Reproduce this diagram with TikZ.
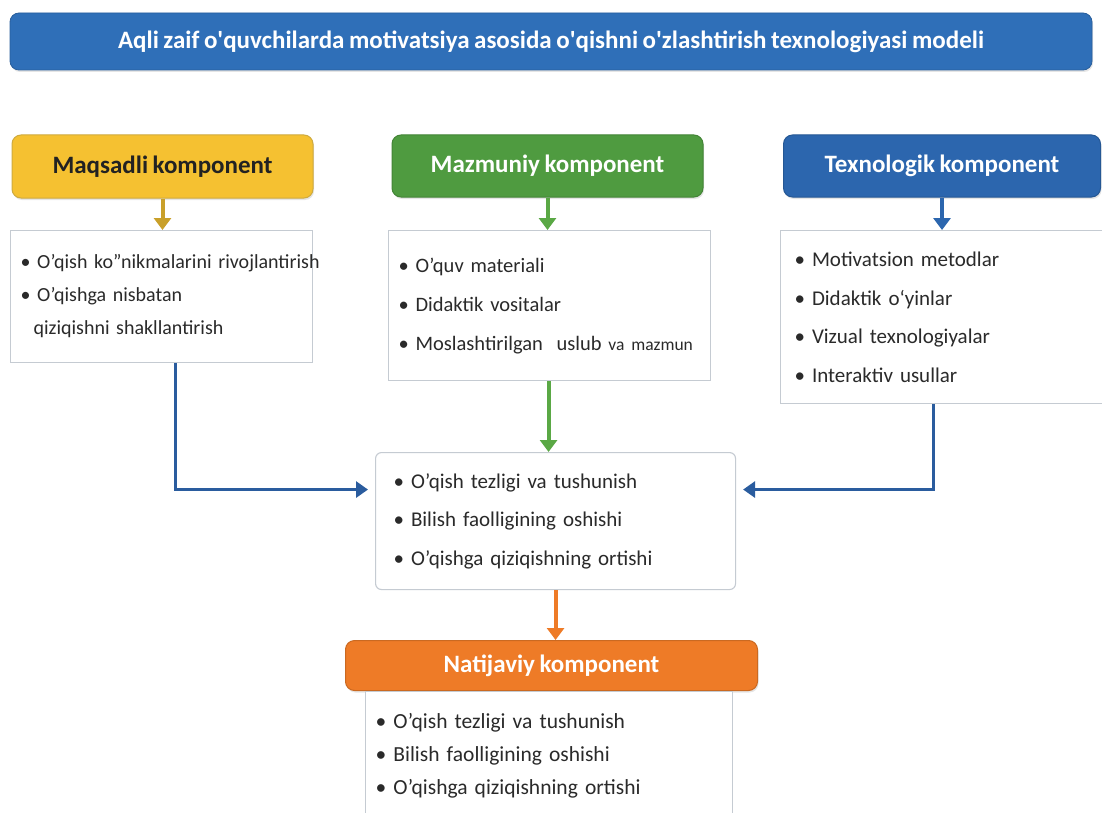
\documentclass[tikz,border=0pt]{standalone}
\usepackage{fontspec}
\setmainfont{Carlito}[WordSpace=0.8]
\usetikzlibrary{arrows.meta,shadows}
\definecolor{titleblue}{HTML}{2F6FB8}
\definecolor{techblue}{HTML}{2C66AE}
\definecolor{linkblue}{HTML}{2A5C9E}
\definecolor{myyellow}{HTML}{F5C131}
\definecolor{yellowdark}{HTML}{C9A02A}
\definecolor{mygreen}{HTML}{4F9B40}
\definecolor{greenarrow}{HTML}{5AA845}
\definecolor{myorange}{HTML}{EE7B27}
\definecolor{boxgray}{HTML}{C5CBD2}
\definecolor{textdark}{HTML}{2A2A2A}
\newcommand{\itm}[1]{\mbox{\textbullet\ #1}}
\newcommand{\sq}{\textquotesingle}
\begin{document}
\begin{tikzpicture}[x=1pt,y=-1pt,
  header/.style={rounded corners=9pt, minimum height=62pt, inner sep=0pt,
     font=\fontsize{25}{30}\selectfont\bfseries, text=white,
     drop shadow={opacity=0.2, shadow xshift=1pt, shadow yshift=-2pt}},
  itembox/.style={draw=boxgray, line width=1.1pt, fill=white, inner xsep=10pt, inner ysep=0pt,
     align=left, anchor=north west, text=textdark},
  arr/.style={line width=4pt, -{Triangle[width=17pt,length=12pt]}},
  link/.style={line width=3pt, linkblue, -{Triangle[width=16pt,length=12pt]}}
]
\clip (0,0) rectangle (1102,813);
\fill[white] (0,0) rectangle (1102,813);

% title
\node[header, fill=titleblue, draw=titleblue!85!black, line width=0.8pt,
      minimum width=1082pt, minimum height=57pt] (title) at (551,41.5)
  {Aqli zaif o\sq quvchilarda motivatsiya asosida o\sq qishni o\sq zlashtirish texnologiyasi modeli};

% headers
\node[header, fill=myyellow, draw=yellowdark!90, line width=1pt, text=textdark!80!black,
      minimum width=301pt, minimum height=63pt] (maq) at (162.5,166.5) {Maqsadli komponent};
\node[header, fill=mygreen, draw=mygreen!85!black, line width=1pt,
      minimum width=311pt] (maz) at (547.5,166) {Mazmuniy komponent};
\node[header, fill=techblue, draw=techblue!85!black, line width=1pt,
      minimum width=317pt] (tex) at (942,166) {Texnologik komponent};

% item boxes
\node[itembox, text width=282pt, minimum height=132pt,
      font=\fontsize{20}{33}\selectfont] (b1) at (10,230)
  {\itm{O'qish ko''nikmalarini rivojlantirish}\\
   \itm{O'qishga nisbatan}\\
   \hspace*{13pt}\mbox{qiziqishni shakllantirish}};
\node[itembox, text width=302pt, minimum height=150pt,
      font=\fontsize{20.5}{39}\selectfont] (b2) at (388,230)
  {\itm{O'quv materiali}\\
   \itm{Didaktik vositalar}\\
   \itm{Moslashtirilgan\ \ uslub {\fontsize{17.5}{39}\selectfont va mazmun}}};
\node[itembox, inner xsep=14pt, text width=302pt, minimum height=173pt,
      font=\fontsize{21}{38.5}\selectfont] (b3) at (780,230)
  {\itm{Motivatsion metodlar}\\
   \itm{Didaktik o`yinlar}\\
   \itm{Vizual texnologiyalar}\\
   \itm{Interaktiv usullar}};

% center box
\node[itembox, rounded corners=6pt, inner xsep=18pt, text width=324pt, minimum height=137pt,
      font=\fontsize{21}{38.5}\selectfont] (mid) at (375,452)
  {\itm{O'qish tezligi va tushunish}\\
   \itm{Bilish faolligining oshishi}\\
   \itm{O'qishga qiziqishning ortishi}};

% result
\node[header, fill=myorange, draw=myorange!85!black, line width=1pt,
      minimum width=412pt, minimum height=50pt, anchor=north west] (nat) at (345,640)
  {Natijaviy komponent};
\node[itembox, text width=347pt, minimum height=129pt, anchor=north west,
      font=\fontsize{21.5}{33}\selectfont] (b5) at (365,690.5)
  {\itm{O'qish tezligi va tushunish}\\
   \itm{Bilish faolligining oshishi}\\
   \itm{O'qishga qiziqishning ortishi}};

% arrows
\draw[arr, yellowdark] (maq.south) -- (maq.south |- b1.north);
\draw[arr, greenarrow] (maz.south) -- (maz.south |- b2.north);
\draw[arr, techblue] (tex.south) -- (tex.south |- b3.north);
\draw[arr, greenarrow] ([xshift=-1pt]b2.south) -- ([xshift=-1pt]b2.south |- mid.north);
\draw[arr, myorange] (mid.south) -- (mid.south |- nat.north);
\draw[link, shorten >=7pt] ([xshift=14pt]b1.south) |- ([yshift=31.5pt]mid.west);
\draw[link, shorten >=7pt] ([xshift=-12pt]b3.south) |- ([yshift=31.5pt]mid.east);
\end{tikzpicture}
\end{document}
